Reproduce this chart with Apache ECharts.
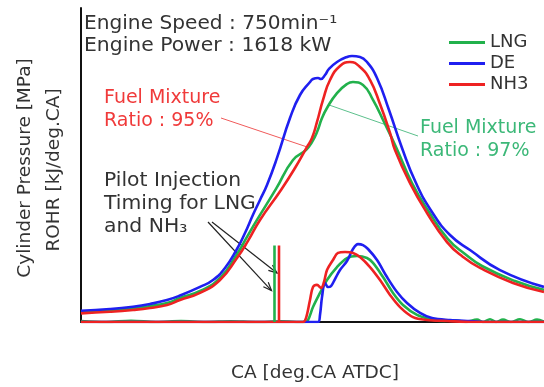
<!DOCTYPE html>
<html>
<head>
<meta charset="utf-8">
<script src="https://cdn.jsdelivr.net/npm/echarts@6/dist/echarts.min.js"></script>
<style>
  html, body { margin: 0; padding: 0; background: #fff; }
  #chart { width: 544px; height: 387px; }
</style>
</head>
<body>
<div id="chart"></div>
<script>
// Crank angle [deg.CA ATDC] paired with cylinder pressure [MPa]
const pressureLNG = [
  [-50, 0.76], [-44.2, 0.88], [-39.6, 1.03], [-36.2, 1.22], [-32.8, 1.45], [-30.2, 1.83],
  [-26.2, 2.37], [-22.2, 3.36], [-18.8, 5.20], [-16.8, 6.50], [-14.8, 7.80], [-11.0, 10.17],
  [-7.6, 12.38], [-5.0, 13.15], [-3.8, 13.76], [-2.8, 14.52], [-1.8, 15.59], [-0.8, 16.36],
  [1.2, 17.50], [3.2, 18.19], [4.4, 18.34], [6.4, 18.12], [8.4, 16.97], [10.6, 15.29],
  [13.0, 13.38], [16.2, 10.62], [19.6, 8.41], [23.4, 6.34], [26.8, 5.20], [30.2, 4.28],
  [36.8, 3.13], [42.6, 2.45]
];
const pressureDE = [
  [-50, 0.86], [-44.2, 0.99], [-39.6, 1.17], [-36.2, 1.38], [-32.8, 1.68], [-30.2, 2.02],
  [-26.2, 2.68], [-23.6, 3.21], [-21.2, 4.13], [-18.8, 5.58], [-17.2, 6.80], [-15.6, 8.20],
  [-14.2, 9.33], [-12.8, 10.47], [-10.8, 12.54], [-8.2, 15.59], [-6.2, 17.35], [-4.2, 18.34],
  [-3.6, 18.57], [-2.6, 18.65], [-2.0, 18.57], [-1.2, 18.88], [-0.4, 19.34], [1.2, 19.87],
  [3.2, 20.26], [4.2, 20.33], [5.8, 20.26], [7.2, 19.87], [9.2, 18.65], [11.6, 16.20],
  [14.2, 13.30], [17.0, 10.62], [20.2, 8.41], [23.8, 6.65], [27.8, 5.50], [33.8, 3.97],
  [42.6, 2.68]
];
const pressureNH3 = [
  [-50, 0.66], [-44.2, 0.78], [-39.6, 0.92], [-36.2, 1.07], [-32.8, 1.30], [-30.2, 1.68],
  [-26.2, 2.22], [-22.2, 3.21], [-18.8, 4.89], [-16.6, 6.20], [-14.2, 7.80], [-10.0, 10.09],
  [-7.2, 11.77], [-4.8, 13.38], [-3.8, 14.06], [-2.8, 15.29], [-1.6, 16.97], [-0.2, 18.50],
  [1.8, 19.57], [3.8, 19.87], [5.8, 19.49], [7.8, 18.50], [9.8, 16.66], [11.8, 14.45],
  [12.8, 13.15], [15.8, 10.62], [19.2, 8.33], [23.2, 6.11], [26.4, 4.97], [29.8, 4.13],
  [36.4, 2.98], [42.6, 2.29]
];

// Crank angle paired with rate of heat release [kJ/deg.CA]
const rohrLNG = [
  [-50, 0.05], [-45, 0], [-40, 0.06], [-35, 0], [-30, 0.05], [-25, 0], [-20, 0.04], [-15, 0],
  [-10, 0.03], [-5.2, 0], [-4.6, 0.10], [-3.6, 0.76], [-2.2, 1.48], [-0.8, 2.14], [1.2, 2.80],
  [3.2, 3.26], [5.2, 3.36], [7.2, 3.26], [8.4, 3.01], [10.4, 2.29], [12.4, 1.48], [14.4, 0.87],
  [17.2, 0.36], [19.8, 0.15], [22, 0.05], [25, 0.08], [27, 0], [29.2, 0.12], [30.4, 0],
  [31.8, 0.14], [33, 0], [34.4, 0.12], [36, 0], [37.8, 0.14], [39.5, 0], [41.2, 0.12], [42.6, 0.02]
];
const rohrDE = [
  [-50, 0], [-2.6, 0], [-2.2, 0.36], [-1.8, 1.27], [-1.2, 1.99], [-0.6, 1.78], [0.0, 1.83],
  [0.8, 2.19], [1.8, 2.65], [3.2, 3.11], [4.4, 3.72], [5.4, 3.97], [6.4, 3.92], [7.4, 3.72],
  [9.2, 3.16], [11.2, 2.29], [13.2, 1.53], [15.2, 0.97], [17.8, 0.46], [20.2, 0.20],
  [23.8, 0.10], [27.8, 0.05], [32, 0], [42.6, 0]
];
const rohrNH3 = [
  [-50, 0], [-5.6, 0], [-5.0, 0.20], [-4.2, 1.12], [-3.6, 1.78], [-2.8, 1.89], [-2.0, 1.73],
  [-1.4, 2.04], [-0.8, 2.65], [0.4, 3.16], [1.4, 3.52], [2.8, 3.57], [4.4, 3.52], [5.8, 3.31],
  [7.8, 2.80], [9.8, 2.14], [11.8, 1.38], [13.8, 0.76], [16.4, 0.25], [19.2, 0.10],
  [23.2, 0.05], [28, 0], [42.6, 0]
];

// Pilot injection timing [deg.CA ATDC] and the height of its marker [kJ/deg.CA]
const pilotTimingLNG = -11.3;
const pilotTimingNH3 = -10.4;
const pilotMarkHeight = 3.9;

const fuels = ['LNG', 'DE', 'NH3'];
const colors = { LNG: '#22b14c', DE: '#1f1ff0', NH3: '#ee2222' };
const FONT = '"DejaVu Sans", Verdana, sans-serif';
const TEXT = '#333333';

const chart = echarts.init(document.getElementById('chart'));

function curve(name, data, yAxisIndex, smooth) {
  return {
    name, type: 'line', data, yAxisIndex, xAxisIndex: 0,
    showSymbol: false, smooth, silent: true,
    lineStyle: { color: colors[name], width: 2.6 },
    itemStyle: { color: colors[name] }
  };
}
function pilot(name, ca) {
  return {
    name, type: 'line', yAxisIndex: 1, xAxisIndex: 0, showSymbol: false, silent: true,
    data: [[ca, 0], [ca, pilotMarkHeight]],
    lineStyle: { color: colors[name], width: 2.6 }, itemStyle: { color: colors[name] }
  };
}

const hidden = { axisTick: { show: false }, axisLabel: { show: false }, splitLine: { show: false } };

chart.setOption({
  animation: false,
  grid: { left: 81, top: 8, right: 0, bottom: 65 },
  xAxis: [
    Object.assign({ type: 'value', min: -50, max: 42.6, position: 'bottom',
      axisLine: { show: true, onZero: false, lineStyle: { color: '#9a9a9a', width: 2 } } }, hidden),
    Object.assign({ type: 'value', min: -50, max: 42.6, position: 'top',
      axisLine: { show: true, lineStyle: { color: '#111', width: 2 } } }, hidden)
  ],
  yAxis: [
    Object.assign({ type: 'value', min: 0, max: 24, position: 'left',
      axisLine: { show: true, onZero: false, lineStyle: { color: '#111', width: 2 } } }, hidden),
    Object.assign({ type: 'value', min: 0, max: 16, show: false }, hidden)
  ],
  legend: {
    data: fuels, orient: 'vertical', left: 449, top: 33.5, itemGap: 3, padding: 0,
    icon: 'rect', itemWidth: 36, itemHeight: 3,
    textStyle: { fontFamily: FONT, fontSize: 18, color: TEXT }
  },
  series: [
    curve('LNG', rohrLNG, 1, 0.35), curve('DE', rohrDE, 1, 0.35), curve('NH3', rohrNH3, 1, 0.35),
    pilot('LNG', pilotTimingLNG), pilot('NH3', pilotTimingNH3),
    curve('LNG', pressureLNG, 0, 0.5), curve('DE', pressureDE, 0, 0.5), curve('NH3', pressureNH3, 0, 0.5)
  ]
});

// Linear lookup along a drawn curve, used to anchor the annotation leaders
function valueAt(arr, ca) {
  for (let i = 1; i < arr.length; i++) {
    if (arr[i][0] >= ca) {
      const [x0, y0] = arr[i - 1], [x1, y1] = arr[i];
      return y0 + (y1 - y0) * (ca - x0) / (x1 - x0);
    }
  }
  return arr[arr.length - 1][1];
}
const toPx = (ca, v, yi) => chart.convertToPixel({ xAxisIndex: 0, yAxisIndex: yi }, [ca, v]);

function text(str, x, y, fill, size, opts) {
  const o = opts || {};
  return {
    type: 'text', x, y, silent: true,
    rotation: o.rotation || 0, scaleX: o.scaleX || 1, originX: 0, originY: 0,
    style: { text: str, fill, font: size + 'px ' + FONT, align: o.align || 'left', verticalAlign: 'middle' }
  };
}
function seg(p, q, stroke, w) {
  return { type: 'line', silent: true, shape: { x1: p[0], y1: p[1], x2: q[0], y2: q[1] },
    style: { stroke, lineWidth: w } };
}
function arrow(from, to) {
  const a = Math.atan2(to[1] - from[1], to[0] - from[0]);
  const L = 9, s = 0.38;
  const l = [to[0] - L * Math.cos(a - s), to[1] - L * Math.sin(a - s)];
  const r = [to[0] - L * Math.cos(a + s), to[1] - L * Math.sin(a + s)];
  return [
    seg(from, to, '#222', 1.2),
    { type: 'polyline', silent: true, shape: { points: [l, to, r] }, style: { stroke: '#222', lineWidth: 1.2, fill: null } }
  ];
}

const redEnd = toPx(-4.8, valueAt(pressureNH3, -4.8), 0);
const greenEnd = toPx(-0.4, valueAt(pressureLNG, -0.4), 0);
const arrowLNG = toPx(pilotTimingLNG, 1.6, 1);
const arrowNH3 = toPx(pilotTimingNH3, 2.5, 1);

chart.setOption({
  graphic: [
    text('Engine Speed : 750min⁻¹', 84, 24, TEXT, 19, { scaleX: 1.06 }),
    text('Engine Power : 1618 kW', 84, 46, TEXT, 19, { scaleX: 1.07 }),
    text('Fuel Mixture', 104, 98, '#f03a3a', 19),
    text('Ratio : 95%', 104, 121, '#f03a3a', 19),
    seg([221, 118], redEnd, '#f05a5a', 1),
    text('Fuel Mixture', 420, 128, '#3cb878', 19),
    text('Ratio : 97%', 420, 151, '#3cb878', 19),
    seg([418, 136], greenEnd, '#5cc08c', 1),
    text('Pilot Injection', 104, 181, TEXT, 19, { scaleX: 1.07 }),
    text('Timing for LNG', 104, 204, TEXT, 19, { scaleX: 1.07 }),
    text('and NH₃', 104, 227, TEXT, 19, { scaleX: 1.07 }),
    ...arrow([208, 222], [arrowLNG[0] - 3, arrowLNG[1]]),
    ...arrow([212, 222], [arrowNH3[0] - 2, arrowNH3[1]]),
    text('Cylinder Pressure [MPa]', 25, 168, TEXT, 18.5, { rotation: Math.PI / 2, align: 'center' }),
    text('ROHR [kJ/deg.CA]', 54, 170, TEXT, 18.5, { rotation: Math.PI / 2, align: 'center' }),
    text('CA [deg.CA ATDC]', 315, 373, TEXT, 18.5, { align: 'center' })
  ]
});
</script>
</body>
</html>
